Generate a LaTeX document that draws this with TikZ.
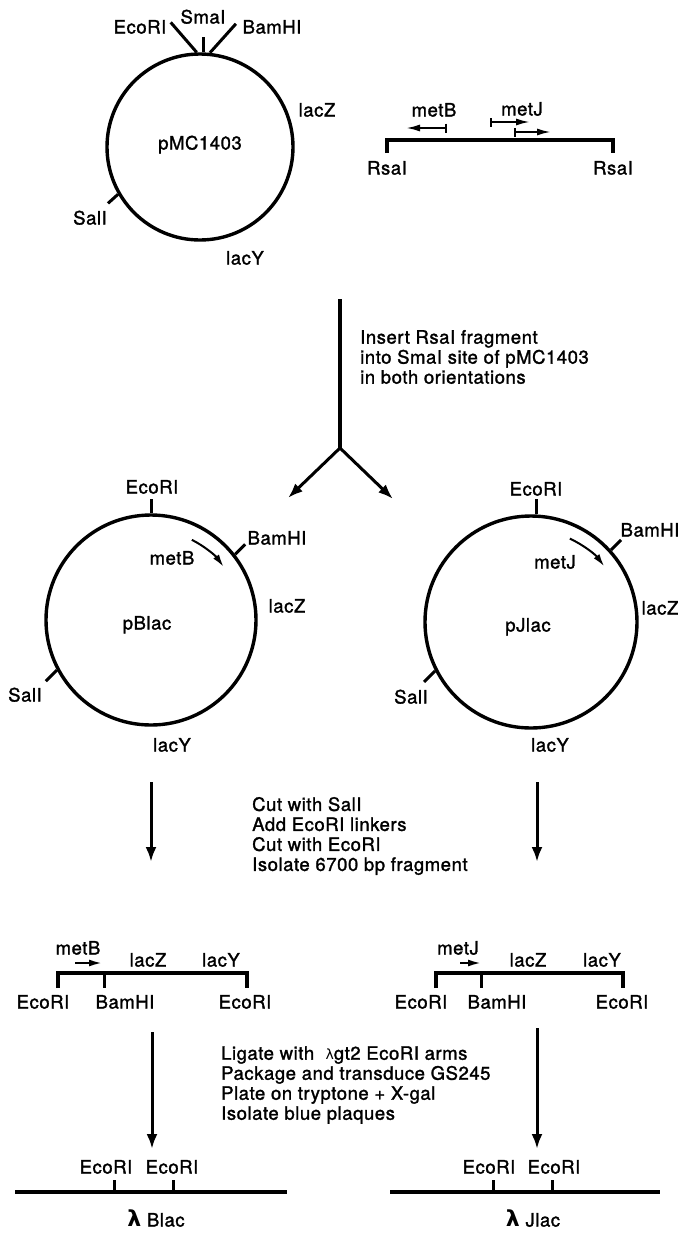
\documentclass[tikz,border=0pt]{standalone}
\usepackage{fontspec}
\setmainfont[FakeBold=1.5,LetterSpace=3]{TeX Gyre Heros}
\newfontfamily\grk{DejaVu Sans}
\usetikzlibrary{arrows.meta}

\begin{document}
\begin{tikzpicture}[x=1pt,y=-1pt,
    lbl/.style={font=\fontsize{18.5}{20}\selectfont, inner sep=0pt, text height=13pt, text depth=0pt},
    steps/.style={font=\fontsize{18.5}{20}\selectfont, inner sep=0pt, anchor=west, align=left},
    plasmid/.style={circle, draw, line width=3.4pt, inner sep=0pt},
    dna/.style={line width=3.4pt},
    site/.style={line width=3pt},
    flow/.style={line width=3pt, -{Latex[length=15pt,width=11pt]}},
    gene/.style={line width=2pt, -{Latex[length=13pt,width=7pt]}},
    orf/.style={line width=2pt, {Bar[width=9pt]}-{Latex[length=14pt,width=7pt]}}]
  \useasboundingbox (0,0) rectangle (684,1237);

  % pMC1403
  \node[plasmid, minimum size=186pt] (pmc) at (200,147) {};
  \draw[site] (pmc.92) -- ++(-26,-30);
  \draw[site] (pmc.88) -- ++(0,-15);
  \draw[site] (pmc.84) -- ++(26,-29);
  \draw[site] (pmc.210) -- ++(-10,9);
  \node[lbl] (ecoA) at (140,27) {EcoRI};
  \node[lbl] (smaA) at (203,17) {SmaI};
  \node[lbl] (bamA) at (272,27) {BamHI};
  \node[lbl] (laczA) at (317,110) {lacZ};
  \node[lbl] (pmcname) at (200,143) {pMC1403};
  \node[lbl] (salA) at (90,218) {SalI};
  \node[lbl] (lacyA) at (245,258) {lacY};

  % RsaI fragment
  \node[lbl] (rsaL) at (387,168) {RsaI};
  \node[lbl] (rsaR) at (613,168) {RsaI};
  \draw[dna] (387,153) -- (387,140) -- (613,140) -- (613,153);
  \node[lbl] (metBtop) at (434,110) {metB};
  \node[lbl] (metJtop) at (522,109) {metJ};
  \draw[orf] (447,128) -- (406,128);
  \draw[orf] (490,122) -- (530,122);
  \draw[orf] (514,132) -- (551,132);

  % insertion
  \coordinate (ytop) at (340,299);
  \coordinate (yfork) at (340,448);
  \coordinate (yleft) at (288,498);
  \coordinate (yright) at (393,499);
  \draw[dna] (ytop) -- (yfork);
  \draw[flow] (yfork) -- (yleft);
  \draw[flow] (yfork) -- (yright);
  \node[steps] (ins) at (360,357) {Insert RsaI fragment\\into SmaI site of pMC1403\\in both orientations};

  % pBlac
  \node[plasmid, minimum size=210pt] (pbl) at (151,620) {};
  \draw[site] (pbl.90) -- ++(0,-14);
  \draw[site] (pbl.38) -- ++(10,-10);
  \draw[site] (pbl.208) -- ++(-11,11);
  \draw[gene] ([shift={(-63:90)}]pbl.center) arc[start angle=-63, end angle=-36, radius=90];
  \node[lbl] (ecoB) at (152,487) {EcoRI};
  \node[lbl] (bamB) at (277,538) {BamHI};
  \node[lbl] (metB) at (172,558) {metB};
  \node[lbl] (laczB) at (287,606) {lacZ};
  \node[lbl] (pblname) at (147,623) {pBlac};
  \node[lbl] (salB) at (25,695) {SalI};
  \node[lbl] (lacyB) at (172,745) {lacY};

  % pJlac
  \node[plasmid, minimum size=212pt] (pjl) at (531,622) {};
  \draw[site] (pjl.87) -- ++(0,-15);
  \draw[site] (pjl.42) -- ++(10,-10);
  \draw[site] (pjl.207) -- ++(-11,11);
  \draw[gene] ([shift={(-65:92)}]pjl.center) arc[start angle=-65, end angle=-37, radius=92];
  \node[lbl] (ecoC) at (536,489) {EcoRI};
  \node[lbl] (bamC) at (650,530) {BamHI};
  \node[lbl] (metJ) at (555,562) {metJ};
  \node[lbl] (laczC) at (660,608) {lacZ};
  \node[lbl] (pjlname) at (528,625) {pJlac};
  \node[lbl] (salC) at (411,697) {SalI};
  \node[lbl] (lacyC) at (550,745) {lacY};

  % cut and link
  \coordinate (cutL1) at (151,782);
  \coordinate (cutL2) at (151,862);
  \coordinate (cutR1) at (537,782);
  \coordinate (cutR2) at (537,862);
  \draw[flow] (cutL1) -- (cutL2);
  \draw[flow] (cutR1) -- (cutR2);
  \node[steps] (cut) at (252,836) {Cut with SalI\\Add EcoRI linkers\\Cut with EcoRI\\Isolate 6700 bp fragment};

  % 6700 bp fragments
  \draw[dna] (58,988) -- (58,973) -- (247,973) -- (247,988);
  \draw[site] (104,973) -- (104,988);
  \draw[gene] (75,963) -- (102,963);
  \node[lbl] (metBfr) at (78,948) {metB};
  \node[lbl] (laczD) at (148,960) {lacZ};
  \node[lbl] (lacyD) at (221,960) {lacY};
  \node[lbl] (ecoD1) at (43,1002) {EcoRI};
  \node[lbl] (bamD) at (125,1002) {BamHI};
  \node[lbl] (ecoD2) at (245,1002) {EcoRI};

  \draw[dna] (436,988) -- (436,973) -- (623,973) -- (623,988);
  \draw[site] (481,973) -- (481,988);
  \draw[gene] (460,963) -- (481,963);
  \node[lbl] (metJfr) at (458,948) {metJ};
  \node[lbl] (laczE) at (528,960) {lacZ};
  \node[lbl] (lacyE) at (602,960) {lacY};
  \node[lbl] (ecoE1) at (421,1002) {EcoRI};
  \node[lbl] (bamE) at (497,1002) {BamHI};
  \node[lbl] (ecoE2) at (622,1002) {EcoRI};

  % lambda
  \coordinate (ligL1) at (152,1032);
  \coordinate (ligL2) at (152,1149);
  \coordinate (ligR1) at (537,1028);
  \coordinate (ligR2) at (537,1149);
  \draw[flow] (ligL1) -- (ligL2);
  \draw[flow] (ligR1) -- (ligR2);
  \node[steps] (lig) at (221,1085) {Ligate with \ {\grk\fontsize{14}{20}\selectfont λ}gt2 EcoRI arms\\Package and transduce GS245\\Plate on tryptone + X-gal\\Isolate blue plaques};

  \draw[dna] (15,1192) -- (287,1192);
  \draw[site] (114,1180) -- (114,1192);
  \draw[site] (173,1180) -- (173,1192);
  \node[lbl] (ecoF1) at (106,1167) {EcoRI};
  \node[lbl] (ecoF2) at (172,1167) {EcoRI};
  \node[lbl] (lblac) at (156,1220) {{\grk\bfseries\fontsize{22}{20}\selectfont λ} Blac};

  \draw[dna] (390,1192) -- (660,1192);
  \draw[site] (493,1180) -- (493,1192);
  \draw[site] (552,1180) -- (552,1192);
  \node[lbl] (ecoG1) at (489,1167) {EcoRI};
  \node[lbl] (ecoG2) at (554,1167) {EcoRI};
  \node[lbl] (ljlac) at (533,1220) {{\grk\bfseries\fontsize{22}{20}\selectfont λ} Jlac};
\end{tikzpicture}
\end{document}
